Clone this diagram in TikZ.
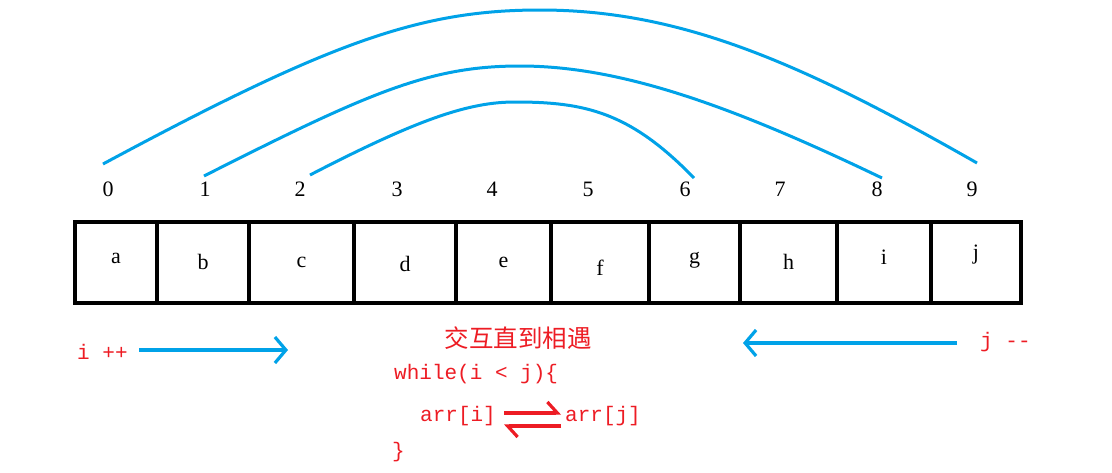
\documentclass[tikz,border=0pt]{standalone}
\usepackage{fontspec}
\setmainfont{Liberation Serif}
\setmonofont{Liberation Mono}
\newfontfamily\cjk{Noto Sans CJK SC}
\usetikzlibrary{arrows.meta}
\definecolor{pblue}{RGB}{0,162,232}
\definecolor{pred}{RGB}{237,28,36}

\begin{document}
\begin{tikzpicture}[x=1pt,y=-1pt,
  cellline/.style={draw=black,line width=4.2pt},
  letter/.style={font=\fontsize{22}{24}\selectfont,inner sep=0pt},
  idx/.style={font=\fontsize{22}{24}\selectfont,inner sep=0pt},
  arc/.style={pblue,line width=3pt},
  move/.style={pblue,line width=3.4pt,-{Straight Barb[length=11pt,width=26pt,line width=3.2pt]}},
  swap/.style={pred,line width=3.6pt,-{Straight Barb[harpoon,length=10pt,width=22pt,line width=3.2pt]}},
  code/.style={pred,font=\ttfamily\fontsize{21}{24}\selectfont,inner sep=0pt}]
\useasboundingbox (0,0) rectangle (1112,472);
% array cells and contents
\foreach \l/\r/\t/\ty [count=\n from 0] in
  {75/157/a/258,157/249/b/262,249/354/c/262,354/456/d/264,456/551/e/262,
   551/649/f/268,649/740/g/260,740/837/h/262,837/931/i/257,931/1021/j/255}{
  \draw[cellline] (\l,222) rectangle (\r,303);
  \node[letter] (v\n) at ({(\l+\r)/2},\ty) {\t};
}
% indices
\foreach \x [count=\n from 0] in {108,205,300,397,492,588,685,780,877,972}{
  \node[idx] (k\n) at (\x,189) {\n};
}
% swap arcs
\coordinate (o1) at (103,164); \coordinate (o2) at (977,163);
\coordinate (m1) at (204,176); \coordinate (m2) at (882,178);
\coordinate (n1) at (310,175); \coordinate (n2) at (694,178);
\draw[arc] (o1) .. controls (330,42) and (420,10) .. (540,10)
  .. controls (680,10) and (800,62) .. (o2);
\draw[arc] (m1) .. controls (370,92) and (430,66) .. (520,66)
  .. controls (620,66) and (730,105) .. (m2);
\draw[arc] (n1) .. controls (420,118) and (470,102) .. (515,102)
  .. controls (585,102) and (630,112) .. (n2);
% pointers
\node[code,anchor=west] (ip) at (77,352) {i ++};
\coordinate (ie) at (288,350);
\draw[move] (139,350) -- (ie);
\node[code,anchor=west] (jm) at (980,342) {j --};
\coordinate (je) at (743,343);
\draw[move] (957,343) -- (je);
% loop text
\node[pred,font=\cjk\fontsize{24.5}{26}\selectfont,inner sep=0pt] (title) at (518,338) {交互直到相遇};
\node[code,anchor=west] (wh) at (394,374) {while(i < j)\{};
\node[code,anchor=west] (ai) at (420,416) {arr[i]};
\node[code,anchor=west] (aj) at (565,416) {arr[j]};
\node[code,anchor=west] (cl) at (392,452) {\}};
\draw[swap] ([xshift=8pt]ai.east|-0,413) -- ([xshift=-4pt]aj.west|-0,413);
\draw[swap] ([xshift=-4pt]aj.west|-0,426) -- ([xshift=8pt]ai.east|-0,426);
\end{tikzpicture}
\end{document}
